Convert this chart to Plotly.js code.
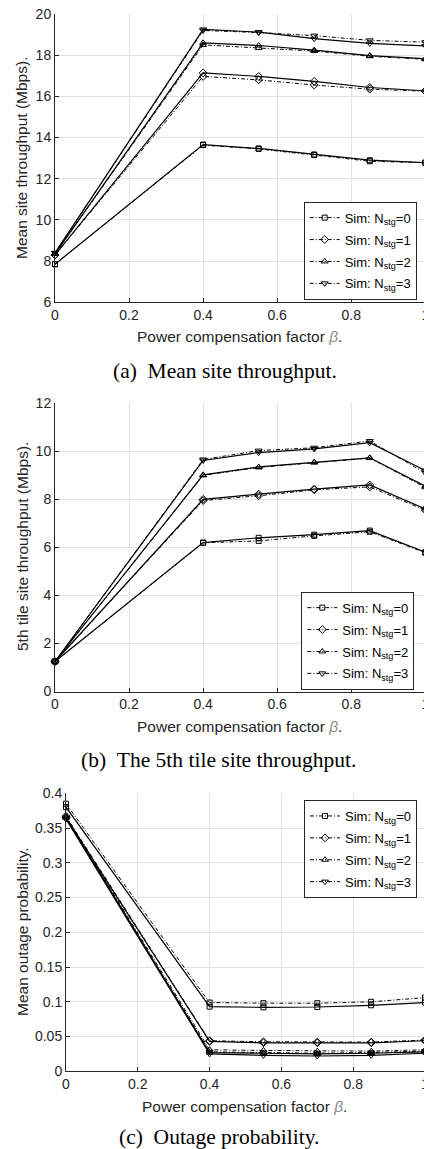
<!DOCTYPE html>
<html>
<head>
<meta charset="utf-8">
<script src="https://cdn.plot.ly/plotly-3.0.1.min.js"></script>
<style>
html,body{margin:0;padding:0;overflow:hidden;background:#fff;}
#chart{width:440px;height:1149px;}
</style>
</head>
<body>
<div id="chart"></div>
<script>
// ---- data ----
const beta = [0, 0.4, 0.55, 0.7, 0.85, 1.0];
const nstg = ['0', '1', '2', '3'];

// Mean site throughput (Mbps)
const meanThrSim = [
  [7.85, 13.63, 13.45, 13.15, 12.85, 12.78],
  [8.30, 16.97, 16.80, 16.55, 16.35, 16.25],
  [8.35, 18.50, 18.35, 18.20, 17.95, 17.80],
  [8.40, 19.20, 19.10, 18.95, 18.72, 18.63]
];
const meanThrAna = [
  [7.85, 13.66, 13.47, 13.18, 12.90, 12.78],
  [8.30, 17.14, 16.97, 16.73, 16.43, 16.27],
  [8.35, 18.60, 18.47, 18.25, 17.98, 17.83],
  [8.40, 19.25, 19.12, 18.80, 18.57, 18.45]
];

// 5th tile site throughput (Mbps)
const tileThrSim = [
  [1.25, 6.19, 6.27, 6.48, 6.65, 5.78],
  [1.25, 7.95, 8.15, 8.40, 8.52, 7.55],
  [1.25, 9.00, 9.33, 9.53, 9.72, 8.50],
  [1.25, 9.66, 10.03, 10.15, 10.43, 9.10]
];
const tileThrAna = [
  [1.25, 6.20, 6.40, 6.53, 6.70, 5.80],
  [1.25, 8.00, 8.22, 8.43, 8.60, 7.60],
  [1.25, 9.02, 9.35, 9.55, 9.73, 8.55],
  [1.25, 9.62, 9.95, 10.10, 10.36, 9.20]
];

// Mean outage probability
const outageSim = [
  [0.385, 0.099, 0.098, 0.098, 0.100, 0.106],
  [0.367, 0.044, 0.0425, 0.042, 0.042, 0.045],
  [0.367, 0.031, 0.030, 0.029, 0.029, 0.031],
  [0.365, 0.028, 0.027, 0.026, 0.027, 0.029]
];
const outageAna = [
  [0.380, 0.093, 0.092, 0.0925, 0.095, 0.099],
  [0.365, 0.043, 0.041, 0.041, 0.041, 0.044],
  [0.365, 0.027, 0.026, 0.025, 0.026, 0.028],
  [0.363, 0.025, 0.023, 0.022, 0.023, 0.026]
];

// ---- styles ----
const W = 440, H = 1149;
const px = v => v / W;
const py = v => 1 - v / H;
const symbols = ['square-open', 'diamond-open', 'triangle-up-open', 'triangle-down-open'];
const msize = [5, 6, 6, 6];
const SANS = 'Liberation Sans, Arial, Helvetica, sans-serif';
const SERIF = 'Liberation Serif, Times New Roman, serif';
const INK = '#262626';

const traces = [];
function addPanel(sim, ana, xa, ya, leg) {
  for (let i = 0; i < 4; i++) {
    traces.push({
      x: beta, y: ana[i], xaxis: xa, yaxis: ya, type: 'scatter', mode: 'lines+markers',
      line: {color: '#000', width: 1.2},
      marker: {symbol: symbols[i], size: msize[i], color: '#000', line: {color: '#000', width: 1}},
      showlegend: false, legend: leg, legendgroup: leg + 'g' + i, cliponaxis: false, hoverinfo: 'skip'
    });
  }
  for (let i = 0; i < 4; i++) {
    traces.push({
      x: beta, y: sim[i], xaxis: xa, yaxis: ya, type: 'scatter', mode: 'lines+markers',
      name: 'Sim: N<sub>stg</sub>=' + nstg[i],
      line: {color: '#000', width: 1, dash: '4px,2px,1px,2px'},
      marker: {symbol: symbols[i], size: msize[i], color: '#000', line: {color: '#000', width: 1}},
      showlegend: true, legend: leg, legendgroup: leg + 'g' + i, cliponaxis: false, hoverinfo: 'skip'
    });
  }
}
addPanel(meanThrSim, meanThrAna, 'x', 'y', 'legend');
addPanel(tileThrSim, tileThrAna, 'x2', 'y2', 'legend2');
addPanel(outageSim, outageAna, 'x3', 'y3', 'legend3');

function axisBase(extra) {
  return Object.assign({
    showline: true, linecolor: INK, linewidth: 1, mirror: false,
    ticks: 'inside', ticklen: 4, tickwidth: 1, tickcolor: INK,
    showgrid: true, gridcolor: '#e3e3e3', gridwidth: 1, zeroline: false,
    tickfont: {family: SANS, size: 14, color: INK},
    fixedrange: true
  }, extra);
}
function legendBase(right, top) {
  return {
    x: px(right), y: py(top), xanchor: 'right', yanchor: 'top',
    bgcolor: '#fff', bordercolor: INK, borderwidth: 1,
    font: {family: SANS, size: 13, color: '#000'},
    traceorder: 'grouped', tracegroupgap: 2, itemwidth: 30
  };
}

const xTitle = 'Power compensation factor <span style="color:#8c8c8c"><i>β</i></span>.';
function ann(text, x, y, size, family, angle) {
  return {text: text, xref: 'paper', yref: 'paper', x: px(x), y: py(y), xanchor: 'center', yanchor: 'middle',
    showarrow: false, textangle: angle || 0, font: {family: family, size: size, color: family === SERIF ? '#000' : INK}};
}

const layout = {
  width: W, height: H,
  margin: {l: 0, r: 0, t: 0, b: 0},
  paper_bgcolor: '#fff', plot_bgcolor: '#fff',
  showlegend: true,
  xaxis: axisBase({domain: [px(55), px(425.3)], range: [0, 1], tick0: 0, dtick: 0.2, anchor: 'y'}),
  yaxis: axisBase({domain: [py(302.3), py(14)], range: [6, 20], tick0: 6, dtick: 2, anchor: 'x'}),
  xaxis2: axisBase({domain: [px(55), px(425.3)], range: [0, 1], tick0: 0, dtick: 0.2, anchor: 'y2'}),
  yaxis2: axisBase({domain: [py(691.5), py(403.3)], range: [0, 12], tick0: 0, dtick: 2, anchor: 'x2'}),
  xaxis3: axisBase({domain: [px(66), px(425)], range: [0, 1], tick0: 0, dtick: 0.2, anchor: 'y3'}),
  yaxis3: axisBase({domain: [py(1071.3), py(793.3)], range: [0, 0.4], tick0: 0, dtick: 0.05, anchor: 'x3'}),
  legend: legendBase(416.7, 201.7),
  legend2: legendBase(414.3, 591.7),
  legend3: legendBase(417, 800),
  annotations: [
    ann('Mean site throughput (Mbps).', 22, 158, 15.5, SANS, -90),
    ann(xTitle, 240, 336.7, 15.5, SANS),
    ann('(a)\u00a0\u00a0Mean site throughput.', 225, 371, 21.5, SERIF),
    ann('5th tile site throughput (Mbps).', 22, 547, 15.5, SANS, -90),
    ann(xTitle, 240, 726, 15.5, SANS),
    ann('(b)\u00a0\u00a0The 5th tile site throughput.', 218, 760, 21.5, SERIF),
    ann('Mean outage probability.', 22, 932, 15.5, SANS, -90),
    ann(xTitle, 245, 1106, 15.5, SANS),
    ann('(c)\u00a0\u00a0Outage probability.', 219, 1136.5, 21.5, SERIF)
  ]
};

Plotly.newPlot('chart', traces, layout, {staticPlot: true, displayModeBar: false});
</script>
</body>
</html>
